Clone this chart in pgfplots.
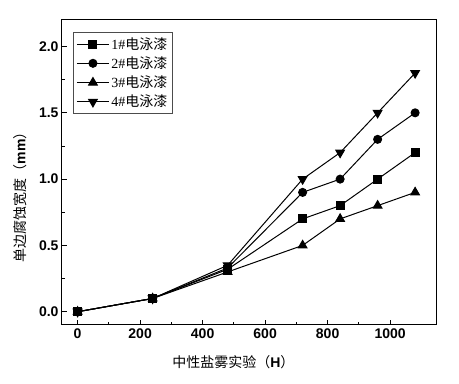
\documentclass[border=0pt]{standalone}
\usepackage{fontspec}
\setmainfont{Liberation Serif}
\setsansfont{Liberation Sans}
\newfontfamily\cjk{Noto Sans CJK SC}
\usepackage{pgfplots}
\pgfplotsset{compat=1.18}
\begin{document}
\begin{tikzpicture}
\begin{axis}[
  name=ax,
  scale only axis, width=375pt, height=305pt,
  xmin=-50, xmax=1150, ymin=-0.1, ymax=2.2,
  xtick={0,200,...,1000}, ytick={0,0.5,1,1.5,2},
  minor x tick num=1, minor y tick num=1,
  tick align=inside, tick pos=left,
  major tick length=5pt, minor tick length=3pt,
  axis line style={line width=1pt},
  every tick/.style={black, line width=0.8pt},
  /pgf/number format/assume math mode=true,
  ticklabel style={font=\sffamily\bfseries\fontsize{14}{14}\selectfont},
  yticklabel style={/pgf/number format/.cd, fixed, fixed zerofill, precision=1},
  xticklabel style={/pgf/number format/1000 sep={}},
  xlabel={{\cjk 中性盐雾实验（}{\sffamily\bfseries H}{\cjk ）}},
  ylabel={{\cjk 单边腐蚀宽度（}{\sffamily\bfseries mm}{\cjk ）}},
  every axis x label/.style={at={(axis description cs:0.457,0)}, yshift=-37pt, anchor=center},
  every axis y label/.style={at={(axis description cs:0,0.43)}, xshift=-42pt, rotate=90, anchor=center},
  label style={font=\fontsize{14}{14}\selectfont},
  legend style={at={(axis description cs:0.03,0.96)}, anchor=north west,
    draw=black!70, font=\fontsize{14}{17}\selectfont, row sep=2pt,
    inner sep=3pt},
  legend image code/.code={\draw[mark repeat=2,mark phase=2] plot coordinates {(0pt,0pt) (16pt,0pt) (32pt,0pt)};},
  legend cell align=left,
  every axis plot/.append style={black, line width=1pt},
]
\addplot[mark=square*, mark size=4pt] coordinates {(0,0) (240,0.1) (480,0.32) (720,0.7) (840,0.8) (960,1.0) (1080,1.2)};
\addplot[mark=*, mark size=4pt] coordinates {(0,0) (240,0.1) (480,0.33) (720,0.9) (840,1.0) (960,1.3) (1080,1.5)};
\addplot[mark=triangle*, mark size=5pt] coordinates {(0,0) (240,0.1) (480,0.3) (720,0.5) (840,0.7) (960,0.8) (1080,0.9)};
\addplot[mark=triangle*, mark size=5pt, mark options={rotate=180}] coordinates {(0,0) (240,0.1) (480,0.35) (720,1.0) (840,1.2) (960,1.5) (1080,1.8)};
\legend{{\rmfamily 1\#}{\cjk 电泳漆},{\rmfamily 2\#}{\cjk 电泳漆},{\rmfamily 3\#}{\cjk 电泳漆},{\rmfamily 4\#}{\cjk 电泳漆}}
\end{axis}
\pgfresetboundingbox
\path[use as bounding box] ([shift={(-62pt,-59pt)}]ax.south west) rectangle ([shift={(22pt,20pt)}]ax.north east);
\end{tikzpicture}
\end{document}
